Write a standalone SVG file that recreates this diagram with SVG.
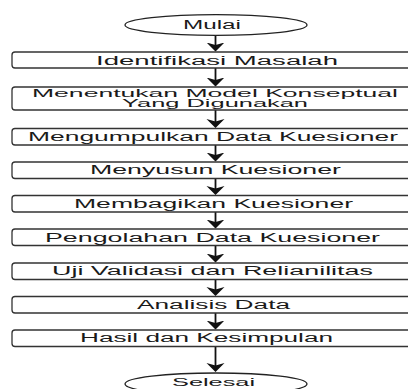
<svg xmlns="http://www.w3.org/2000/svg" width="408" height="389" viewBox="0 0 408 389">
<defs>
<style>
.box{fill:#fff;stroke:#333;stroke-width:1.3}
.term{fill:#fff;stroke:#222;stroke-width:1.3}
.t{font-family:"Liberation Sans",Arial,sans-serif;font-size:12.5px;fill:#1a1a1a}
.s{font-size:11.5px}
.c{stroke:#111;stroke-width:1.8;fill:none}
</style>
<marker id="ah" markerUnits="userSpaceOnUse" markerWidth="9" markerHeight="20" viewBox="0 0 9 20" refX="6" refY="10" orient="auto">
<path d="M0,1 L9,10 L0,19 L2.5,10 z" fill="#111"/>
</marker>
</defs>
<rect width="408" height="389" fill="#fff"/>
<g id="connectors">
<line class="c" x1="215.5" y1="35" x2="215.5" y2="48.5" marker-end="url(#ah)"/>
<line class="c" x1="215.5" y1="68" x2="215.5" y2="83.5" marker-end="url(#ah)"/>
<line class="c" x1="215.5" y1="110" x2="215.5" y2="125" marker-end="url(#ah)"/>
<line class="c" x1="215.5" y1="145" x2="215.5" y2="158.5" marker-end="url(#ah)"/>
<line class="c" x1="215.5" y1="178.5" x2="215.5" y2="192" marker-end="url(#ah)"/>
<line class="c" x1="215.5" y1="212" x2="215.5" y2="225.5" marker-end="url(#ah)"/>
<line class="c" x1="215.5" y1="245.5" x2="215.5" y2="259.5" marker-end="url(#ah)"/>
<line class="c" x1="215.5" y1="279.5" x2="215.5" y2="293" marker-end="url(#ah)"/>
<line class="c" x1="215.5" y1="313" x2="215.5" y2="326.5" marker-end="url(#ah)"/>
<line class="c" x1="215.5" y1="346.5" x2="215.5" y2="369" marker-end="url(#ah)"/>
</g>
<g id="mulai">
<ellipse class="term" cx="216" cy="25" rx="91" ry="10.3"/>
<text class="t" x="183" y="29" textLength="58" lengthAdjust="spacingAndGlyphs">Mulai</text>
</g>
<g id="n1">
<rect class="box" x="12" y="52" width="400" height="16" rx="3"/>
<text class="t" x="96" y="65" textLength="242" lengthAdjust="spacingAndGlyphs">Identifikasi Masalah</text>
</g>
<g id="n2">
<rect class="box" x="12" y="87" width="400" height="23" rx="3"/>
<text class="t s" x="32" y="96.5" textLength="366" lengthAdjust="spacingAndGlyphs">Menentukan Model Konseptual</text>
<text class="t s" x="122" y="107" textLength="186" lengthAdjust="spacingAndGlyphs">Yang Digunakan</text>
</g>
<g id="n3">
<rect class="box" x="12" y="128.5" width="400" height="16.5" rx="3"/>
<text class="t" x="28" y="140.5" textLength="370" lengthAdjust="spacingAndGlyphs">Mengumpulkan Data Kuesioner</text>
</g>
<g id="n4">
<rect class="box" x="12" y="162" width="400" height="16.5" rx="3"/>
<text class="t" x="90" y="174" textLength="251" lengthAdjust="spacingAndGlyphs">Menyusun Kuesioner</text>
</g>
<g id="n5">
<rect class="box" x="12" y="195.5" width="400" height="16.5" rx="3"/>
<text class="t" x="74" y="207.5" textLength="279" lengthAdjust="spacingAndGlyphs">Membagikan Kuesioner</text>
</g>
<g id="n6">
<rect class="box" x="12" y="229" width="400" height="16.5" rx="3"/>
<text class="t" x="45" y="241.5" textLength="335" lengthAdjust="spacingAndGlyphs">Pengolahan Data Kuesioner</text>
</g>
<g id="n7">
<rect class="box" x="12" y="263" width="400" height="16.5" rx="3"/>
<text class="t" x="52" y="275" textLength="321" lengthAdjust="spacingAndGlyphs">Uji Validasi dan Relianilitas</text>
</g>
<g id="n8">
<rect class="box" x="12" y="296.5" width="400" height="16.5" rx="3"/>
<text class="t" x="137" y="308.5" textLength="153" lengthAdjust="spacingAndGlyphs">Analisis Data</text>
</g>
<g id="n9">
<rect class="box" x="12" y="330" width="400" height="16.5" rx="3"/>
<text class="t" x="80" y="342" textLength="253" lengthAdjust="spacingAndGlyphs">Hasil dan Kesimpulan</text>
</g>
<g id="selesai">
<ellipse class="term" cx="216" cy="384" rx="91" ry="11"/>
<text class="t s" x="172" y="386" textLength="83" lengthAdjust="spacingAndGlyphs">Selesai</text>
</g>
</svg>
